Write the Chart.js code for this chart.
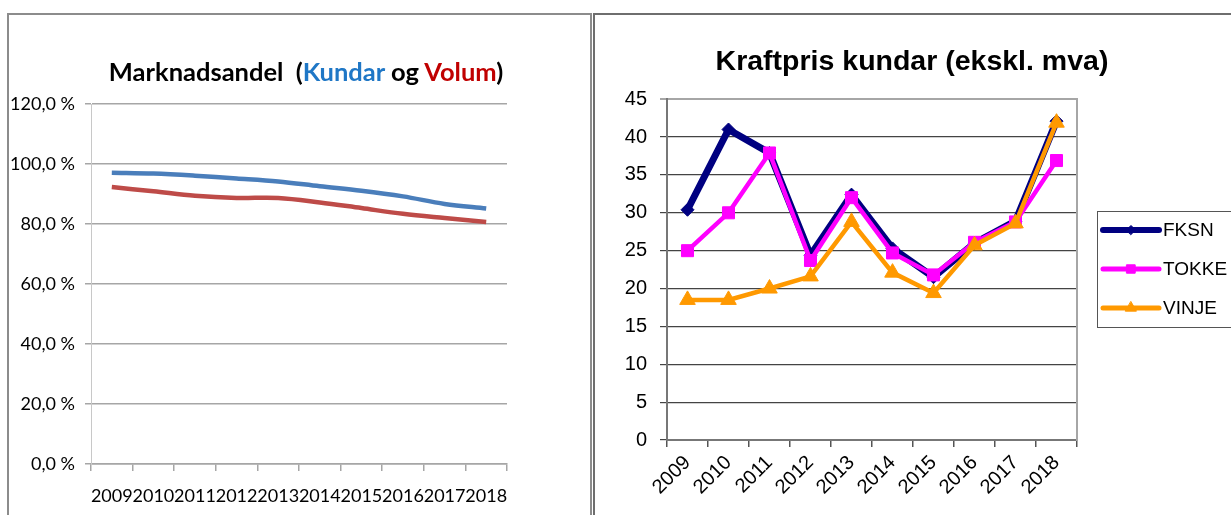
<!DOCTYPE html>
<html>
<head>
<meta charset="utf-8">
<script src="https://cdn.jsdelivr.net/npm/chart.js@4.4.1/dist/chart.umd.min.js"></script>
<style>
  html, body { margin: 0; padding: 0; background: #fff; }
  body { width: 1231px; height: 515px; position: relative; overflow: hidden; }
  .panel { position: absolute; box-sizing: border-box; }
  #panel-left { left: 7px; top: 13px; width: 585px; height: 600px; border: 2px solid #8c8c8c; }
  #panel-right { left: 593px; top: 13px; width: 700px; height: 600px; border: 2px solid #6e6e6e; }
  .chart-box { position: absolute; top: 0; }
  #box-left { left: 0; width: 593px; height: 515px; }
  #box-right { left: 593px; width: 638px; height: 515px; }
  #title-left {
    position: absolute; left: 0; width: 612px; top: 55px; text-align: center;
    font-family: Lato, 'Open Sans', sans-serif;
    font-weight: bold; font-size: 25.5px; line-height: 32px; white-space: pre; color: #000;
  }
  #title-left .k { color: #1f77c6; }
  #title-left .v { color: #c00000; }
</style>
</head>
<body>
<div class="panel" id="panel-left"></div>
<div class="panel" id="panel-right"></div>
<div class="chart-box" id="box-left"><canvas id="chart-share"></canvas></div>
<div class="chart-box" id="box-right"><canvas id="chart-price"></canvas></div>
<div id="title-left">Marknadsandel  (<span class="k">Kundar</span> og <span class="v">Volum</span>)</div>

<script>
/* Shared categories */
const YEARS = ['2009', '2010', '2011', '2012', '2013', '2014', '2015', '2016', '2017', '2018'];

/* Left chart: market share (fraction) */
const KUNDAR = [0.971, 0.968, 0.961, 0.952, 0.942, 0.926, 0.911, 0.892, 0.867, 0.852];
const VOLUM = [0.923, 0.909, 0.894, 0.887, 0.887, 0.872, 0.853, 0.834, 0.820, 0.807];
const SHARE_TICKS = [0, 0.2, 0.4, 0.6, 0.8, 1.0, 1.2];

/* Right chart: power price */
const FKSN = [30.4, 41.0, 37.9, 24.4, 32.4, 25.3, 21.5, 26.0, 28.9, 42.1];
const TOKKE = [25.0, 30.0, 37.9, 23.7, 32.0, 24.7, 21.8, 26.1, 28.8, 36.9];
const VINJE = [18.5, 18.5, 20.0, 21.6, 28.8, 22.1, 19.4, 25.7, 28.6, 41.9];
const PRICE_TICKS = [0, 5, 10, 15, 20, 25, 30, 35, 40, 45];

const CALIBRI = "Lato, 'Open Sans', sans-serif";
const ARIAL = "'Liberation Sans', Arial, sans-serif";

Chart.defaults.animation = false;

/* ---- Left chart ---- */
new Chart(document.getElementById('chart-share'), {
  type: 'line',
  data: {
    labels: YEARS,
    datasets: [
      { label: 'Kundar', data: KUNDAR, borderColor: '#4a7ebb', borderWidth: 4.5, pointRadius: 0, tension: 0.35, fill: false },
      { label: 'Volum', data: VOLUM, borderColor: '#be4b48', borderWidth: 4.5, pointRadius: 0, tension: 0.35, fill: false }
    ]
  },
  options: {
    responsive: true,
    maintainAspectRatio: false,
    layout: { padding: { top: 104, right: 86, bottom: 0, left: 0 } },
    plugins: { legend: { display: false }, tooltip: { enabled: false } },
    scales: {
      x: {
        offset: true,
        grid: { offset: true, drawOnChartArea: false, tickLength: 7, color: '#a6a6a6', lineWidth: 1.5 },
        border: { color: '#a6a6a6', width: 1.5 },
        ticks: { autoSkip: false, maxRotation: 0, minRotation: 0, padding: 14, color: '#000', font: { family: CALIBRI, size: 18 } },
        afterFit: function(s) { s.height = 51; }
      },
      y: {
        min: 0,
        max: 1.2,
        afterBuildTicks: function(s) { s.ticks = SHARE_TICKS.map(function(v) { return { value: v }; }); },
        grid: { color: '#a6a6a6', lineWidth: 1.5, tickLength: 6 },
        border: { color: '#c8c8c8', width: 1 },
        ticks: {
          padding: 10, color: '#000', font: { family: CALIBRI, size: 18 },
          callback: function(v) { return (v * 100).toFixed(1).replace('.', ',') + ' %'; }
        },
        afterFit: function(s) { s.width = 91; }
      }
    }
  }
});

/* ---- Right chart ---- */
/* Legend drawn in a bordered box, Excel style (line with marker) */
const boxLegend = {
  id: 'boxLegend',
  afterDraw: function(chart) {
    const ctx = chart.ctx;
    const left = 504, top = 211, bottom = 327;
    ctx.save();
    ctx.strokeStyle = '#555';
    ctx.lineWidth = 1;
    ctx.strokeRect(left + 0.5, top + 0.5, 200, bottom - top);
    chart.data.datasets.forEach(function(ds, i) {
      const y = 230 + i * 39;
      ctx.strokeStyle = ds.borderColor;
      ctx.lineWidth = ds.legendLine;
      ctx.lineCap = 'round';
      ctx.beginPath();
      ctx.moveTo(510, y);
      ctx.lineTo(566, y);
      ctx.stroke();
      ctx.fillStyle = ds.borderColor;
      ctx.lineWidth = 1;
      Chart.helpers.drawPoint(ctx, {
        pointStyle: ds.pointStyle, radius: ds.pointRadius * 0.7, borderWidth: 1, rotation: 0
      }, 538, y);
      ctx.fillStyle = '#000';
      ctx.font = '19px ' + ARIAL;
      ctx.textBaseline = 'middle';
      ctx.textAlign = 'left';
      ctx.fillText(ds.label, 570, y + 1);
    });
    ctx.restore();
  }
};

new Chart(document.getElementById('chart-price'), {
  type: 'line',
  data: {
    labels: YEARS,
    datasets: [
      { label: 'FKSN', data: FKSN, borderColor: '#000080', backgroundColor: '#000080', borderWidth: 7,
        pointStyle: 'rectRot', pointRadius: 6.5, pointBorderWidth: 1, tension: 0, order: 3, legendLine: 6 },
      { label: 'TOKKE', data: TOKKE, borderColor: '#ff00ff', backgroundColor: '#ff00ff', borderWidth: 4.5,
        pointStyle: 'rect', pointRadius: 8.5, pointBorderWidth: 1, tension: 0, order: 2, legendLine: 5 },
      { label: 'VINJE', data: VINJE, borderColor: '#ff9900', backgroundColor: '#ff9900', borderWidth: 4.5,
        pointStyle: 'triangle', pointRadius: 9, pointBorderWidth: 1, tension: 0, order: 1, legendLine: 5 }
    ]
  },
  options: {
    responsive: true,
    maintainAspectRatio: false,
    layout: { padding: 0 },
    plugins: {
      legend: { display: false },
      tooltip: { enabled: false },
      title: {
        display: true,
        text: 'Kraftpris kundar (ekskl. mva)',
        color: '#000',
        font: { family: ARIAL, size: 28.5, weight: 'bold', lineHeight: 1.2 },
        padding: { top: 45, bottom: 20 }
      }
    },
    scales: {
      x: {
        offset: true,
        grid: { offset: true, drawOnChartArea: false, tickLength: 7, color: '#555', lineWidth: 1.5 },
        border: { color: '#777', width: 2 },
        ticks: { autoSkip: false, maxRotation: 45, minRotation: 45, padding: 4, color: '#000', font: { family: ARIAL, size: 20 } },
        afterFit: function(s) { s.height = 75; }
      },
      y: {
        min: 0,
        max: 45,
        afterBuildTicks: function(s) { s.ticks = PRICE_TICKS.map(function(v) { return { value: v }; }); },
        grid: {
          tickLength: 7,
          color: function(c) { return c.tick && c.tick.value === 45 ? '#a6a6a6' : '#444'; },
          lineWidth: function(c) { return c.tick && c.tick.value === 45 ? 2 : 1.2; }
        },
        border: { color: '#777', width: 2 },
        ticks: { padding: 13, color: '#000', font: { family: ARIAL, size: 20 } },
        afterFit: function(s) { s.width = 74; }
      },
      y2: {
        position: 'right',
        grid: { display: false },
        ticks: { display: false },
        border: { display: true, color: '#a6a6a6', width: 2 },
        afterFit: function(s) { s.width = 154; }
      }
    }
  },
  plugins: [boxLegend]
});
</script>
</body>
</html>
